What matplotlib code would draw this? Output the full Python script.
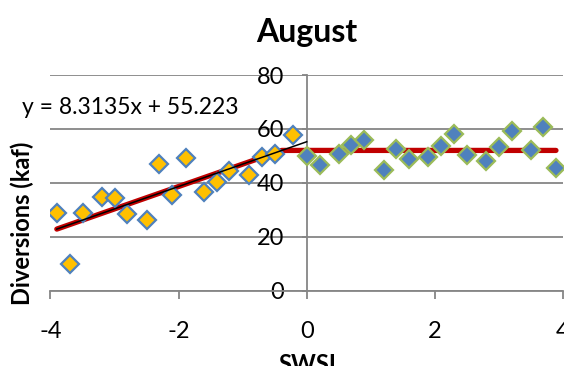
import numpy as np
import matplotlib
matplotlib.use('Agg')
from matplotlib import pyplot as plt

# dry years (SWSI < 0)
dryX = [-3.90, -3.70, -3.49, -3.19, -2.99, -2.80, -2.49, -2.30, -2.10, -1.89,
        -1.60, -1.40, -1.21, -0.90, -0.70, -0.49, -0.21]
dryY = [28.8, 9.9, 28.8, 34.6, 34.3, 28.4, 26.2, 47.1, 35.3, 49.3,
        36.7, 40.2, 44.2, 42.7, 49.6, 50.8, 57.7]
# wet years (SWSI >= 0)
wetX = [0.00, 0.20, 0.50, 0.69, 0.90, 1.20, 1.40, 1.60, 1.90, 2.10,
        2.30, 2.50, 2.80, 3.00, 3.20, 3.50, 3.69, 3.89]
wetY = [49.9, 46.5, 50.8, 53.9, 55.8, 44.6, 52.4, 49.0, 49.6, 53.7,
        58.1, 50.2, 48.0, 53.3, 59.2, 52.3, 60.6, 45.6]

slope, intercept = 8.3135, 55.223
cap = 52.0
trendX = [-3.90, 0.0]
modelX = [-3.90, (cap - intercept) / slope, 3.89]

plt.rcParams['font.family'] = ['Lato', 'DejaVu Sans']
grey = '#868686'

fig = plt.figure(figsize=(5.64, 3.66), dpi=100)
ax = fig.add_axes([50.4 / 564, 1 - 290.5 / 366, (563 - 50.4) / 564, (290.5 - 75) / 366])

modelY = [min(slope * x + intercept, cap) for x in modelX]
ax.plot(modelX, modelY, color='#C00000', lw=3.8, solid_capstyle='round', zorder=2)
ax.plot(wetX, wetY, 'D', ms=9.5, mfc='#4F81BD', mec='#9BBB59', mew=1.6, zorder=3)
ax.plot(dryX, dryY, 'D', ms=9.5, mfc='#FFC000', mec='#4F81BD', mew=1.6, zorder=3)
ax.plot(trendX, [slope * x + intercept for x in trendX], color='black', lw=1.1, zorder=4)

ax.set_xlim(-4, 4)
ax.set_ylim(0, 80)
ax.set_xticks([-4, -2, 0, 2, 4])
ax.set_yticks([0, 20, 40, 60, 80])
ax.yaxis.grid(True, color=grey, lw=1.3)
ax.set_axisbelow(True)
for s in ['top', 'right']:
    ax.spines[s].set_visible(False)
ax.spines['left'].set_position(('data', 0))
ax.spines['left'].set_color(grey)
ax.spines['left'].set_linewidth(1.3)
ax.spines['bottom'].set_color(grey)
ax.spines['bottom'].set_linewidth(1.3)
ax.tick_params(axis='x', direction='out', length=5.8, width=1.3, color=grey,
               labelsize=17, pad=16)
ax.tick_params(axis='y', direction='out', length=3.5, width=1.3, color=grey,
               labelsize=17, pad=13)
ax.set_xticklabels(['-4', '-2', '0', '2', '4'])

fig.text(306.5 / 564, 1 - 42.3 / 366, 'August', ha='center', va='baseline',
         fontsize=23, fontweight='bold')
fig.text(22 / 564, 1 - 114.3 / 366, 'y = 8.3135x + 55.223', ha='left', va='baseline',
         fontsize=16.5)
fig.text(22.5 / 564, 1 - 223 / 366, 'Diversions (kaf)', ha='center', va='center',
         rotation=90, fontsize=17, fontweight='bold')
fig.text(307 / 564, 1 - 353 / 366, 'SWSI', ha='center', va='top',
         fontsize=17, fontweight='bold')

fig.savefig('out.png', dpi=100)
